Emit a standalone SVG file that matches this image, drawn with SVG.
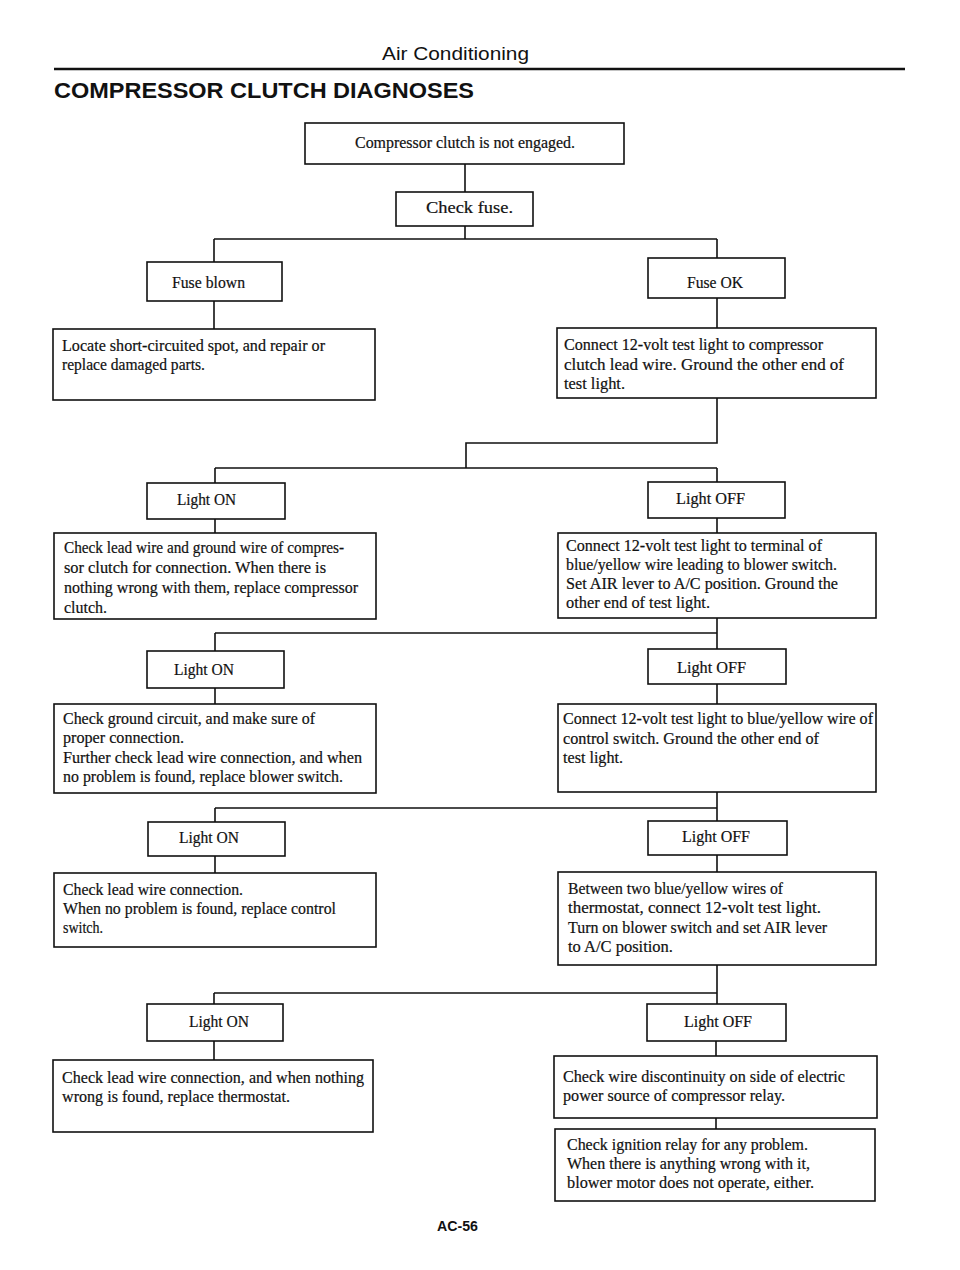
<svg xmlns="http://www.w3.org/2000/svg" width="960" height="1270" viewBox="0 0 960 1270">
<style>
.bg{fill:#ffffff}
.box{fill:#ffffff;stroke:#111;stroke-width:1.6}
.con{fill:none;stroke:#111;stroke-width:1.6}
.t{font-family:"Liberation Serif","Times New Roman",serif;font-size:16px;fill:#111;stroke:#111;stroke-width:0.2}
.big{font-size:17px}
.hdr{font-family:"Liberation Sans",Arial,sans-serif;font-size:18px;fill:#111}
.ttl{font-family:"Liberation Sans",Arial,sans-serif;font-size:22px;font-weight:bold;fill:#111}
.pg{font-family:"Liberation Sans",Arial,sans-serif;font-size:14px;font-weight:bold;fill:#111}
</style>
<rect class="bg" x="0" y="0" width="960" height="1270"/>
<g id="header">
<text class="hdr" x="382" y="60" textLength="147" lengthAdjust="spacingAndGlyphs">Air Conditioning</text>
<line x1="54" y1="69" x2="905" y2="69" stroke="#111" stroke-width="2.5"/>
<text class="ttl" x="54" y="98" textLength="420" lengthAdjust="spacingAndGlyphs">COMPRESSOR CLUTCH DIAGNOSES</text>
</g>
<g id="connectors">
<path class="con" d="M465 164V192"/>
<path class="con" d="M465 226V239M214 239H717M214 239V262M717 239V258"/>
<path class="con" d="M214 301V329"/>
<path class="con" d="M717 298V328"/>
<path class="con" d="M717 398V443H466V468M215 468H717M215 468V483M717 468V482"/>
<path class="con" d="M215 519V533M717 518V533"/>
<path class="con" d="M717 618V633M215 633H717M215 633V651M717 633V649"/>
<path class="con" d="M215 688V704M717 684V704"/>
<path class="con" d="M717 792V808M215 808H717M215 808V822M717 808V821"/>
<path class="con" d="M215 856V873M717 855V872"/>
<path class="con" d="M717 965V993M214 993H717M214 993V1004M717 993V1004"/>
<path class="con" d="M214 1041V1060M716 1041V1056"/>
<path class="con" d="M716 1118V1129"/>
</g>
<g id="n-start">
<rect class="box" x="305" y="123" width="319" height="41"/>
<text class="t" x="355" y="148" textLength="220" lengthAdjust="spacingAndGlyphs">Compressor clutch is not engaged.</text>
</g>
<g id="n-checkfuse">
<rect class="box" x="396" y="192" width="137" height="34"/>
<text class="t big" x="426" y="213" textLength="87" lengthAdjust="spacingAndGlyphs">Check fuse.</text>
</g>
<g id="n-fuseblown">
<rect class="box" x="147" y="262" width="135" height="39"/>
<text class="t" x="172" y="288" textLength="73" lengthAdjust="spacingAndGlyphs">Fuse blown</text>
</g>
<g id="n-locate">
<rect class="box" x="53" y="329" width="322" height="71"/>
<text class="t" x="62" y="351" textLength="263" lengthAdjust="spacingAndGlyphs">Locate short-circuited spot, and repair or</text>
<text class="t" x="62" y="370" textLength="143" lengthAdjust="spacingAndGlyphs">replace damaged parts.</text>
</g>
<g id="n-fuseok">
<rect class="box" x="648" y="258" width="137" height="40"/>
<text class="t" x="687" y="288" textLength="56" lengthAdjust="spacingAndGlyphs">Fuse OK</text>
</g>
<g id="n-connect1">
<rect class="box" x="557" y="328" width="319" height="70"/>
<text class="t" x="564" y="350" textLength="259" lengthAdjust="spacingAndGlyphs">Connect 12-volt test light to compressor</text>
<text class="t" x="564" y="370" textLength="280" lengthAdjust="spacingAndGlyphs">clutch lead wire.  Ground the other end of</text>
<text class="t" x="564" y="389" textLength="61" lengthAdjust="spacingAndGlyphs">test light.</text>
</g>
<g id="n-on1">
<rect class="box" x="147" y="483" width="138" height="36"/>
<text class="t" x="177" y="505" textLength="59" lengthAdjust="spacingAndGlyphs">Light ON</text>
</g>
<g id="n-act1">
<rect class="box" x="54" y="533" width="322" height="86"/>
<text class="t" x="64" y="553" textLength="280" lengthAdjust="spacingAndGlyphs">Check lead wire and ground wire of compres-</text>
<text class="t" x="64" y="573" textLength="262" lengthAdjust="spacingAndGlyphs">sor clutch for connection.  When there is</text>
<text class="t" x="64" y="593" textLength="294" lengthAdjust="spacingAndGlyphs">nothing wrong with them, replace compressor</text>
<text class="t" x="64" y="613" textLength="43" lengthAdjust="spacingAndGlyphs">clutch.</text>
</g>
<g id="n-off1">
<rect class="box" x="648" y="482" width="137" height="36"/>
<text class="t" x="676" y="504" textLength="69" lengthAdjust="spacingAndGlyphs">Light OFF</text>
</g>
<g id="n-connect2">
<rect class="box" x="558" y="533" width="318" height="85"/>
<text class="t" x="566" y="551" textLength="256" lengthAdjust="spacingAndGlyphs">Connect 12-volt test light to terminal of</text>
<text class="t" x="566" y="570" textLength="271" lengthAdjust="spacingAndGlyphs">blue/yellow wire leading to blower switch.</text>
<text class="t" x="566" y="589" textLength="272" lengthAdjust="spacingAndGlyphs">Set AIR lever to A/C position. Ground the</text>
<text class="t" x="566" y="608" textLength="144" lengthAdjust="spacingAndGlyphs">other end of test light.</text>
</g>
<g id="n-on2">
<rect class="box" x="147" y="651" width="137" height="37"/>
<text class="t" x="174" y="675" textLength="60" lengthAdjust="spacingAndGlyphs">Light ON</text>
</g>
<g id="n-act2">
<rect class="box" x="54" y="704" width="322" height="89"/>
<text class="t" x="63" y="724" textLength="252" lengthAdjust="spacingAndGlyphs">Check ground circuit, and make sure of</text>
<text class="t" x="63" y="743" textLength="121" lengthAdjust="spacingAndGlyphs">proper connection.</text>
<text class="t" x="63" y="763" textLength="299" lengthAdjust="spacingAndGlyphs">Further check lead wire connection, and when</text>
<text class="t" x="63" y="782" textLength="280" lengthAdjust="spacingAndGlyphs">no problem is found, replace blower switch.</text>
</g>
<g id="n-off2">
<rect class="box" x="648" y="649" width="138" height="35"/>
<text class="t" x="677" y="673" textLength="69" lengthAdjust="spacingAndGlyphs">Light OFF</text>
</g>
<g id="n-connect3">
<rect class="box" x="558" y="704" width="318" height="88"/>
<text class="t" x="563" y="724" textLength="310" lengthAdjust="spacingAndGlyphs">Connect 12-volt test light to blue/yellow wire of</text>
<text class="t" x="563" y="744" textLength="256" lengthAdjust="spacingAndGlyphs">control switch. Ground the other end of</text>
<text class="t" x="563" y="763" textLength="60" lengthAdjust="spacingAndGlyphs">test light.</text>
</g>
<g id="n-on3">
<rect class="box" x="148" y="822" width="137" height="34"/>
<text class="t" x="179" y="843" textLength="60" lengthAdjust="spacingAndGlyphs">Light ON</text>
</g>
<g id="n-act3">
<rect class="box" x="54" y="873" width="322" height="74"/>
<text class="t" x="63" y="895" textLength="180" lengthAdjust="spacingAndGlyphs">Check lead wire connection.</text>
<text class="t" x="63" y="914" textLength="273" lengthAdjust="spacingAndGlyphs">When no problem is found, replace control</text>
<text class="t" x="63" y="933" textLength="40" lengthAdjust="spacingAndGlyphs">switch.</text>
</g>
<g id="n-off3">
<rect class="box" x="648" y="821" width="139" height="34"/>
<text class="t" x="682" y="842" textLength="68" lengthAdjust="spacingAndGlyphs">Light OFF</text>
</g>
<g id="n-between">
<rect class="box" x="558" y="872" width="318" height="93"/>
<text class="t" x="568" y="894" textLength="215" lengthAdjust="spacingAndGlyphs">Between two blue/yellow wires of</text>
<text class="t" x="568" y="913" textLength="253" lengthAdjust="spacingAndGlyphs">thermostat, connect 12-volt test light.</text>
<text class="t" x="568" y="933" textLength="259" lengthAdjust="spacingAndGlyphs">Turn on blower switch and set AIR lever</text>
<text class="t" x="568" y="952" textLength="105" lengthAdjust="spacingAndGlyphs">to A/C position.</text>
</g>
<g id="n-on4">
<rect class="box" x="147" y="1004" width="136" height="37"/>
<text class="t" x="189" y="1027" textLength="60" lengthAdjust="spacingAndGlyphs">Light ON</text>
</g>
<g id="n-act4">
<rect class="box" x="53" y="1060" width="320" height="72"/>
<text class="t" x="62" y="1083" textLength="302" lengthAdjust="spacingAndGlyphs">Check lead wire connection, and when nothing</text>
<text class="t" x="62" y="1102" textLength="228" lengthAdjust="spacingAndGlyphs">wrong is found, replace thermostat.</text>
</g>
<g id="n-off4">
<rect class="box" x="647" y="1004" width="139" height="37"/>
<text class="t" x="684" y="1027" textLength="68" lengthAdjust="spacingAndGlyphs">Light OFF</text>
</g>
<g id="n-checkwire">
<rect class="box" x="554" y="1056" width="323" height="62"/>
<text class="t" x="563" y="1082" textLength="282" lengthAdjust="spacingAndGlyphs">Check wire discontinuity on side of electric</text>
<text class="t" x="563" y="1101" textLength="222" lengthAdjust="spacingAndGlyphs">power source of compressor relay.</text>
</g>
<g id="n-ignition">
<rect class="box" x="555" y="1129" width="320" height="72"/>
<text class="t" x="567" y="1150" textLength="241" lengthAdjust="spacingAndGlyphs">Check ignition relay for any problem.</text>
<text class="t" x="567" y="1169" textLength="243" lengthAdjust="spacingAndGlyphs">When there is anything wrong with it,</text>
<text class="t" x="567" y="1188" textLength="247" lengthAdjust="spacingAndGlyphs">blower motor does not operate, either.</text>
</g>
<g id="footer">
<text class="pg" x="437" y="1231" textLength="41" lengthAdjust="spacingAndGlyphs">AC-56</text>
</g>
</svg>
